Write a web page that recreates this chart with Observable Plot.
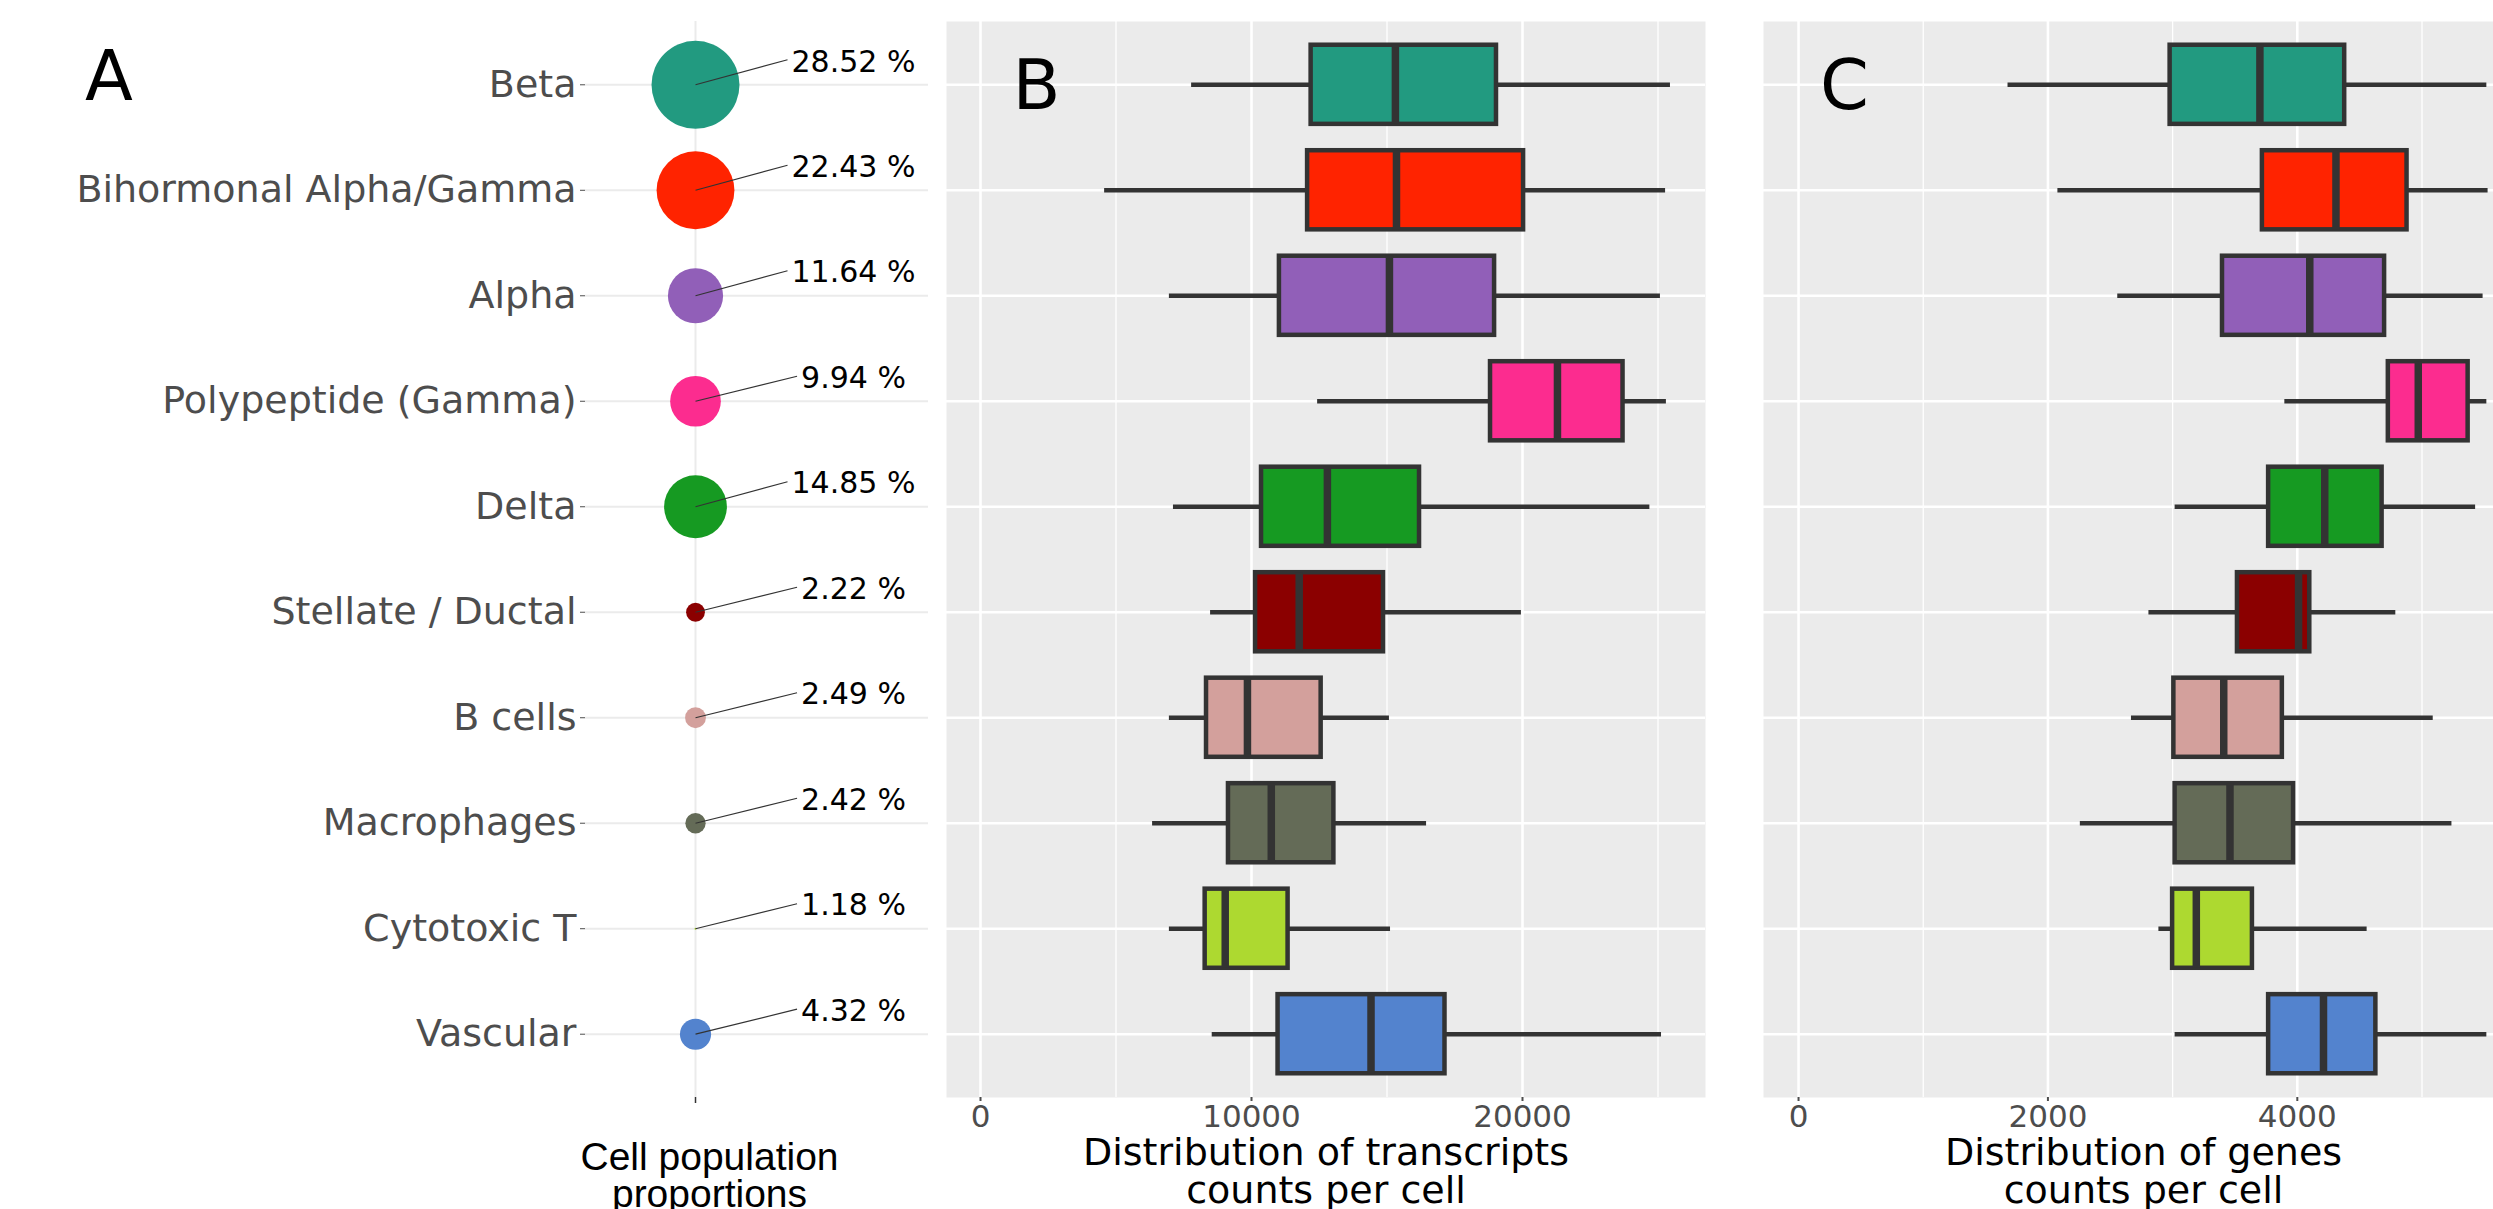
<!DOCTYPE html>
<html>
<head>
<meta charset="utf-8">
<script src="https://cdn.jsdelivr.net/npm/d3@7"></script>
<script src="https://cdn.jsdelivr.net/npm/@observablehq/plot@0.6"></script>
<style>
  html, body { margin: 0; padding: 0; background: #fff; overflow: hidden; }
  #fig { position: relative; width: 2493px; height: 1209px; overflow: hidden; background: #fff; }
  #fig svg { position: absolute; top: 0; max-width: none; }
</style>
</head>
<body>
<div id="fig"></div>
<script>
// ---------------- data ----------------
const cellTypes = ["Beta", "Bihormonal Alpha/Gamma", "Alpha", "Polypeptide (Gamma)", "Delta",
  "Stellate / Ductal", "B cells", "Macrophages", "Cytotoxic T", "Vascular"];
const proportions = [28.52, 22.43, 11.64, 9.94, 14.85, 2.22, 2.49, 2.42, 1.18, 4.32];
const colors = ["#229A80", "#FF2300", "#915FB8", "#FC2C8F", "#169A22",
  "#8B0000", "#D3A09C", "#646B57", "#ADD930", "#5383CE"];

// transcripts per cell (box-plot statistics)
const txLow  = [7790, 4580, 6970, 12440, 7120, 8490, 6970, 6350, 6970, 8550];
const txQ1   = [12200, 12070, 11030, 18820, 10370, 10150, 8340, 9150, 8290, 10980];
const txMed  = [15310, 15350, 15090, 21290, 12800, 11760, 9850, 10730, 9030, 14410];
const txQ3   = [19040, 20040, 18970, 23710, 16200, 14870, 12570, 13040, 11350, 17140];
const txHigh = [25460, 25280, 25090, 25310, 24700, 19960, 15090, 16460, 15130, 25130];

// genes per cell (box-plot statistics)
const gnLow  = [1680, 2080, 2560, 3900, 3020, 2810, 2670, 2260, 2890, 3020];
const gnQ1   = [2980, 3720, 3400, 4730, 3770, 3520, 3010, 3020, 3000, 3770];
const gnMed  = [3700, 4310, 4100, 4970, 4220, 4010, 3410, 3460, 3190, 4210];
const gnQ3   = [4380, 4880, 4700, 5370, 4680, 4100, 3880, 3970, 3640, 4630];
const gnHigh = [5520, 5530, 5490, 5520, 5430, 4790, 5090, 5240, 4560, 5520];

const txMajorTicks = [0, 10000, 20000];
const txMinorTicks = [5000, 15000, 25000];
const gnMajorTicks = [0, 2000, 4000];
const gnMinorTicks = [1000, 3000, 5000];

const titleA = "Cell population\nproportions";
const titleB = "Distribution of transcripts\ncounts per cell";
const titleC = "Distribution of genes\ncounts per cell";

// ---------------- table ----------------
const rows = cellTypes.map((name, i) => ({
  i, name, pct: proportions[i], color: colors[i],
  tlo: txLow[i], tq1: txQ1[i], tmed: txMed[i], tq3: txQ3[i], thi: txHigh[i],
  glo: gnLow[i], gq1: gnQ1[i], gmed: gnMed[i], gq3: gnQ3[i], ghi: gnHigh[i]
}));
const idx = rows.map(d => d.i);
const minP = d3.min(proportions), maxP = d3.max(proportions);

// ---------------- layout ----------------
const H = 1209, TOP = 21, BOTTOM = 1097;
const yOpt = {domain: [-0.6, cellTypes.length - 0.4], reverse: true, axis: null};
const HALF = 0.375;           // half box height (band units)
const fig = document.getElementById("fig");

const ctx = document.createElement("canvas").getContext("2d");
ctx.font = "30px 'DejaVu Sans'";
const pctLabel = d => d.pct.toFixed(2) + " %";
const A_PX = 110;             // pixels per x unit in panel A
const labelX = 1.436;

// ---------------- panel A ----------------
const plotA = Plot.plot({
  width: 940, height: H,
  marginLeft: 585, marginRight: 12, marginTop: TOP, marginBottom: H - BOTTOM,
  style: {fontFamily: "DejaVu Sans", fontSize: "38px", background: "transparent"},
  x: {domain: [-1, 2.118], axis: null},
  y: yOpt,
  r: {type: "linear", domain: [0, Math.sqrt(maxP - minP)], range: [1, 44]},
  color: {type: "identity"},
  marks: [
    Plot.gridY({ticks: idx, stroke: "#ebebeb", strokeOpacity: 1, strokeWidth: 2}),
    Plot.gridX({ticks: [0], stroke: "#ebebeb", strokeOpacity: 1, strokeWidth: 2}),
    Plot.axisY({ticks: idx, tickFormat: i => cellTypes[i], tickSize: 5, tickPadding: 4,
      color: "#4d4d4d", fontSize: 38, label: null}),
    Plot.axisX({ticks: [0], tickFormat: () => "", tickSize: 6, color: "#333", strokeWidth: 1.5, label: null}),
    Plot.dot(rows, {x: 0, y: "i", r: d => Math.sqrt(d.pct - minP), fill: "color"}),
    Plot.link(rows, {
      x1: 0, y1: "i",
      x2: d => labelX - (ctx.measureText(pctLabel(d)).width / 2 + 4) / A_PX,
      y2: d => d.i - 0.237,
      stroke: "#333", strokeWidth: 1.2
    }),
    Plot.text(rows, {x: labelX, y: d => d.i - 0.217, text: pctLabel, fontSize: 30, fill: "black"}),
    Plot.text(["A"], {text: d => d, frameAnchor: "top-left", dx: -500.5, dy: 78.5,
      lineAnchor: "bottom", textAnchor: "start", fontSize: 70, fill: "black"}),
    Plot.text([titleA], {text: d => d, frameAnchor: "bottom", dx: -47.5, dy: 46.5,
      lineAnchor: "top", textAnchor: "middle", fontSize: 39, lineHeight: 0.95,
      fontFamily: "Liberation Sans, Arial, sans-serif", fill: "black"})
  ]
});
plotA.style.left = "0px";
fig.appendChild(plotA);

// ---------------- box panels ----------------
function boxPanel({width, mL, mR, domain, lo, q1, med, q3, hi, major, minor, letter, title}) {
  return Plot.plot({
    width, height: H, marginLeft: mL, marginRight: mR, marginTop: TOP, marginBottom: H - BOTTOM,
    style: {fontFamily: "DejaVu Sans", fontSize: "31px", background: "transparent"},
    x: {domain},
    y: yOpt,
    color: {type: "identity"},
    marks: [
      Plot.frame({fill: "#ebebeb", stroke: null}),
      Plot.gridX({ticks: minor, stroke: "white", strokeOpacity: 1, strokeWidth: 1.3}),
      Plot.gridX({ticks: major, stroke: "white", strokeOpacity: 1, strokeWidth: 2.6}),
      Plot.gridY({ticks: idx, stroke: "white", strokeOpacity: 1, strokeWidth: 2.6}),
      Plot.ruleY(rows, {y: "i", x1: lo, x2: hi, stroke: "#333333", strokeWidth: 4.5}),
      Plot.rect(rows, {x1: q1, x2: q3, y1: d => d.i - HALF, y2: d => d.i + HALF,
        fill: "color", stroke: "#333333", strokeWidth: 4.5}),
      Plot.ruleX(rows, {x: med, y1: d => d.i - HALF, y2: d => d.i + HALF, stroke: "#333333", strokeWidth: 7.5}),
      Plot.axisX({ticks: major, tickFormat: d => String(d), tickSize: 4, tickPadding: 3,
        color: "#4d4d4d", strokeWidth: 2, fontSize: 31, label: null}),
      Plot.text([letter.t], {text: d => d, frameAnchor: "top-left", dx: letter.dx, dy: 87,
        lineAnchor: "bottom", textAnchor: "start", fontSize: 70, fill: "black"}),
      Plot.text([title], {text: d => d, frameAnchor: "bottom", dy: 41,
        lineAnchor: "top", textAnchor: "middle", fontSize: 38, lineHeight: 1.0, fill: "black"})
    ]
  });
}

const plotB = boxPanel({width: 770, mL: 6, mR: 5, domain: [-1255, 26753],
  lo: "tlo", q1: "tq1", med: "tmed", q3: "tq3", hi: "thi",
  major: txMajorTicks, minor: txMinorTicks, letter: {t: "B", dx: 66}, title: titleB});
plotB.style.left = "940px";
fig.appendChild(plotB);

const plotC = boxPanel({width: 772, mL: 6, mR: 6, domain: [-281, 5814],
  lo: "glo", q1: "gq1", med: "gmed", q3: "gq3", hi: "ghi",
  major: gnMajorTicks, minor: gnMinorTicks, letter: {t: "C", dx: 56.5}, title: titleC});
plotC.style.left = "1757px";
fig.appendChild(plotC);
</script>
</body>
</html>
